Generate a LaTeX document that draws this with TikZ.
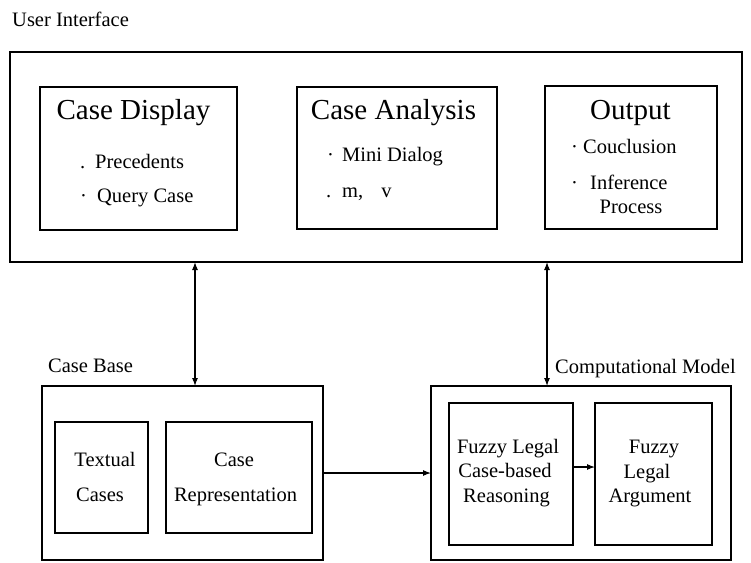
\documentclass[tikz,border=0pt]{standalone}
\usepackage{fontspec}
\setmainfont{Liberation Serif}
\usetikzlibrary{arrows.meta}

\tikzset{
  box/.style={draw, line width=1.2pt, inner sep=0pt, outer sep=0pt},
  title/.style={font=\fontsize{29}{34}\selectfont, anchor=base, inner sep=0pt},
  txt/.style={font=\fontsize{20.5}{24.5}\selectfont, anchor=base, inner sep=0pt},
  ltxt/.style={txt, anchor=base west},
  link/.style={line width=1.1pt, -{Latex[length=8pt,width=6pt]}},
  dlink/.style={line width=1.1pt, {Latex[length=8pt,width=6pt]}-{Latex[length=8pt,width=6pt]}}
}

\begin{document}
\begin{tikzpicture}[x=1pt, y=-1pt]
\useasboundingbox (0,0) rectangle (751,562);

% ---------- User interface ----------
\node[ltxt] (uilabel) at (12,26) {User Interface};
\node[box, minimum width=732pt, minimum height=210pt] (ui) at (376,157) {};

\node[box, minimum width=197pt, minimum height=143pt] (cd) at (138.5,158.5) {};
\node[title] (cdtitle) at (133.5,119) {Case Display};
\node[ltxt] (cd1) at (80,168) {\makebox[15pt][l]{.}Precedents};
\node[ltxt] (cd2) at (80,202) {\makebox[17pt][l]{·}Query Case};

\node[box, minimum width=200pt, minimum height=142pt] (ca) at (397,158) {};
\node[title] (catitle) at (393.5,119) {Case Analysis};
\node[ltxt] (ca1) at (327,161) {\makebox[15pt][l]{·}Mini Dialog};
\node[ltxt] (ca2) at (326,197) {\makebox[16pt][l]{.}m,\hspace{18pt}v};

\node[box, minimum width=172pt, minimum height=143pt] (out) at (631,157.5) {};
\node[title] (outtitle) at (630.5,119) {Output};
\node[ltxt] (out1) at (571,153) {\makebox[12pt][l]{·}Couclusion};
\node[ltxt] (out2) at (571,189) {\makebox[19pt][l]{·}Inference};
\node[txt] (out3) at (631,213) {Process};

% ---------- Case base ----------
\node[ltxt] (cblabel) at (48,372) {Case Base};
\node[box, minimum width=281pt, minimum height=174pt] (cb) at (182.5,473) {};

\node[box, minimum width=93pt, minimum height=111pt] (tc) at (101.5,477.5) {};
\node[txt] (tc1) at (105,466) {Textual};
\node[txt] (tc2) at (100,501) {Cases};

\node[box, minimum width=146pt, minimum height=111pt] (cr) at (239,477.5) {};
\node[txt] (cr1) at (234,466) {Case};
\node[txt] (cr2) at (235.5,501) {Representation};

% ---------- Computational model ----------
\node[ltxt] (cmlabel) at (555,373) {Computational Model};
\node[box, minimum width=300pt, minimum height=174pt] (cm) at (581,473) {};

\node[box, minimum width=124pt, minimum height=142pt] (fl) at (511,474) {};
\node[txt] (fl1) at (508,453) {Fuzzy Legal};
\node[txt] (fl2) at (505,477) {Case-based};
\node[txt] (fl3) at (506.5,502) {Reasoning};

\node[box, minimum width=117pt, minimum height=142pt] (fa) at (653.5,474) {};
\node[txt] (fa1) at (654,453) {Fuzzy};
\node[txt] (fa2) at (647,478) {Legal};
\node[txt] (fa3) at (650,502) {Argument};

% ---------- Connectors ----------
\coordinate (xa) at (195,0);
\coordinate (xb) at (547,0);
\coordinate (ym) at (0,467);
\draw[dlink] (ui.south -| xa) -- (cb.north -| xa);
\draw[dlink] (ui.south -| xb) -- (cm.north -| xb);
\draw[link] (cb.east) -- (cm.west);
\draw[link] (fl.east |- ym) -- (fa.west |- ym);
\end{tikzpicture}
\end{document}
